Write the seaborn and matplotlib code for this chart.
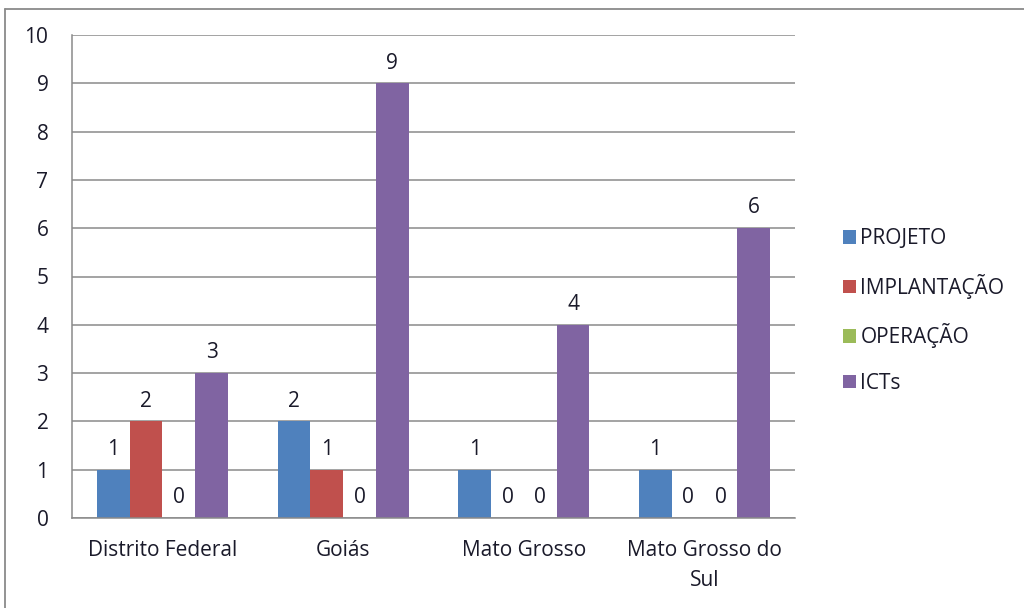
import matplotlib
matplotlib.use("Agg")
import matplotlib.pyplot as plt
import seaborn as sns
import pandas as pd
from matplotlib.lines import Line2D
from matplotlib.patches import Patch

estados = ["Distrito Federal", "Goiás", "Mato Grosso", "Mato Grosso do\nSul"]
fases = ["PROJETO", "IMPLANTAÇÃO", "OPERAÇÃO", "ICTs"]
projeto = [1, 2, 1, 1]
implantacao = [2, 1, 0, 0]
operacao = [0, 0, 0, 0]
icts = [3, 9, 4, 6]
cores = ["#4F81BD", "#C0504D", "#9BBB59", "#8064A2"]

rows = []
for serie, vals in zip(fases, [projeto, implantacao, operacao, icts]):
    for e, v in zip(estados, vals):
        rows.append({"estado": e, "fase": serie, "valor": v})
df = pd.DataFrame(rows)

sns.set_style("white")
plt.rcParams["font.family"] = ["Open Sans", "DejaVu Sans"]
FS = 15
TC = "#1a1a2a"

fig = plt.figure(figsize=(10.24, 6.08), dpi=100)
ax = fig.add_axes([72/1024, 1-518/608, (795-72)/1024, (518-35)/608])

sns.barplot(data=df, x="estado", y="valor", hue="fase", palette=cores,
            hue_order=fases, order=estados, width=0.725, saturation=1,
            dodge=True, ax=ax, legend=False, errorbar=None, linewidth=0)

for cont in ax.containers:
    ax.bar_label(cont, fmt="%d", padding=7, fontsize=FS, color=TC)

ax.set_ylim(0, 10)
ax.set_xlim(-0.5, 3.5)
ax.set_yticks(range(0, 11))
ax.yaxis.grid(True, color="#8a8a8a", linewidth=1.1)
ax.set_axisbelow(True)
ax.set_xlabel("")
ax.set_ylabel("")
for s in ["top", "right"]:
    ax.spines[s].set_visible(False)
for s in ["left", "bottom"]:
    ax.spines[s].set_color("#8a8a8a")
    ax.spines[s].set_linewidth(1.1)

ax.set_xticks(range(4))
ax.set_xticklabels(estados, fontsize=FS, color=TC, linespacing=1.55)
ax.tick_params(axis="x", which="major", length=0, pad=16)
ax.set_xticks([-0.5, 0.5, 1.5, 2.5, 3.5], minor=True)
ax.tick_params(axis="x", which="minor", length=7, width=1.1, color="#8a8a8a", direction="out")
ax.tick_params(axis="y", length=6, width=1.1, color="#8a8a8a", direction="out",
               labelsize=FS, labelcolor=TC, pad=11)

handles = [Patch(facecolor=c, edgecolor="none") for c in cores]
fig.legend(handles, fases, loc="center left", bbox_to_anchor=(833/1024, 1-311/608),
           frameon=False, fontsize=FS, handlelength=0.62, handleheight=0.62,
           handletextpad=0.2, labelspacing=1.18, borderpad=0, labelcolor=TC)

# chart frame
fig.add_artist(Line2D([5/1024, 5/1024], [0, 1-9/608], transform=fig.transFigure,
                      color="#8a8a8a", linewidth=1.3))
fig.add_artist(Line2D([5/1024, 1], [1-9/608, 1-9/608], transform=fig.transFigure,
                      color="#8a8a8a", linewidth=1.3))

fig.savefig("out.png", dpi=100)
